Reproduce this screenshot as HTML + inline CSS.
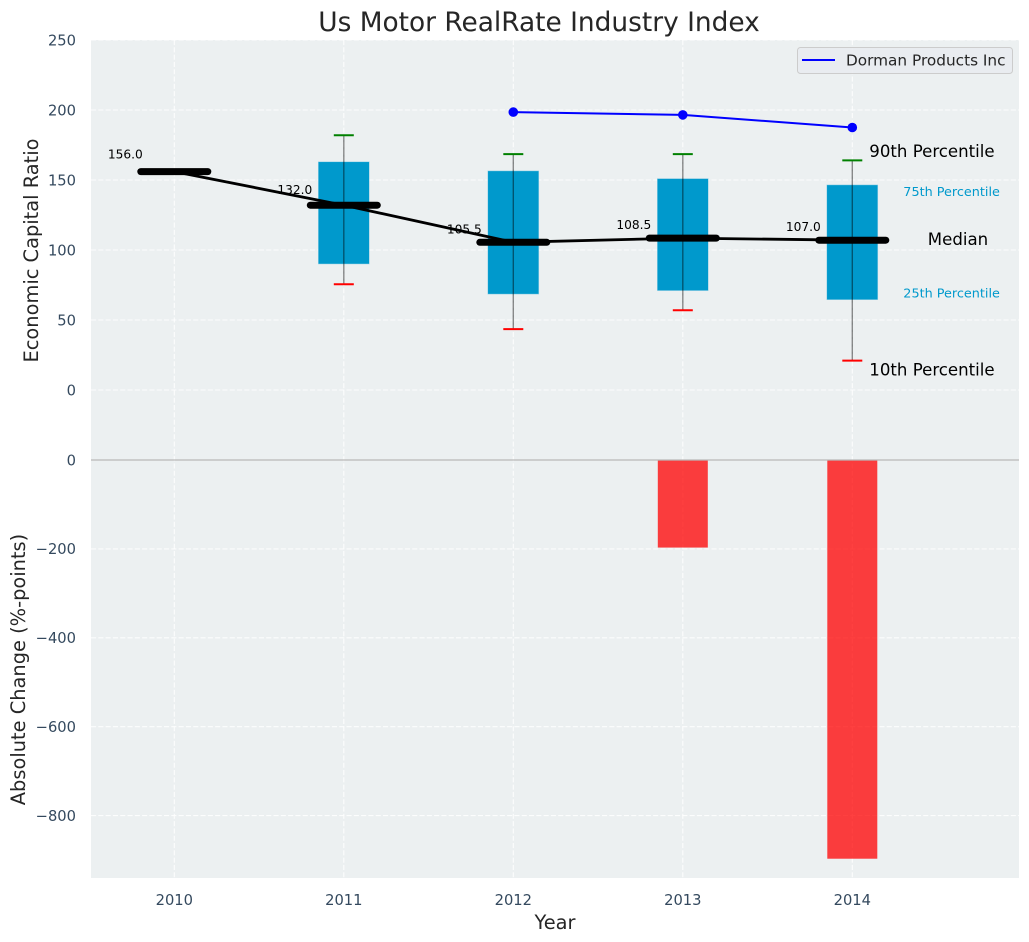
<!DOCTYPE html>
<html>
<head>
<meta charset="utf-8">
<title>Us Motor RealRate Industry Index</title>
<style>
html,body{margin:0;padding:0;background:#fff;width:1029px;height:942px;overflow:hidden}
svg{display:block;font-family:"DejaVu Sans","Liberation Sans",sans-serif}
</style>
</head>
<body>
<svg id="chart" width="1029" height="942" viewBox="0 0 1029 942" xmlns="http://www.w3.org/2000/svg"></svg>
<script>
const years = [2010, 2011, 2012, 2013, 2014];
const median = [156.0, 132.0, 105.5, 108.5, 107.0];
const p90 = [null, 182, 168.5, 168.5, 164];
const p75 = [null, 163, 156.5, 151, 146.5];
const p25 = [null, 90, 68.5, 71, 64.5];
const p10 = [null, 75.5, 43.5, 57, 21];
const dormanYears = [2012, 2013, 2014];
const dormanValues = [198.5, 196.5, 187.5];
const changeYears = [2013, 2014];
const changeValues = [-197, -897];
const upperTicks = [0, 50, 100, 150, 200, 250];
const lowerTicks = [0, -200, -400, -600, -800];

const svg = document.getElementById('chart');
const NS = 'http://www.w3.org/2000/svg';
const x = v => 174.3 + (v - 2010) * 169.5;
const yU = v => 390 - v * 1.4;
const yL = v => 460 - v * 0.4445;
const L = 91, R = 1019, T = 40, M = 460, B = 878;

function make(tag, attrs, parent) {
  const el = document.createElementNS(NS, tag);
  for (const k in attrs) el.setAttribute(k, attrs[k]);
  (parent || svg).appendChild(el);
  return el;
}
function text(str, px, py, size, fill, anchor, parent) {
  const el = make('text', {x: px, y: py, 'font-size': size, fill: fill, 'text-anchor': anchor || 'start'}, parent);
  el.textContent = str;
  return el;
}
const minus = n => String(n).replace('-', '\u2212');
const TICK = '#34495e', INK = '#262626';
const GRID = {stroke: '#fff', 'stroke-width': 1.1, 'stroke-opacity': 0.85, 'stroke-dasharray': '5.1 2.2'};

let el;
el = make('rect', {x: L, y: T, width: R - L, height: B - T, fill: '#ecf0f1'});



years.forEach(yr => {
  const g = make('line', Object.assign({x1: x(yr), x2: x(yr), y1: T, y2: B}, GRID));
  
  
  const t = text(yr, x(yr), 905, 14.7, TICK, 'middle');
  
  
});
upperTicks.forEach(v => {
  const g = make('line', Object.assign({x1: L, x2: R, y1: yU(v), y2: yU(v)}, GRID));
  
  
  const t = text(v, 76, yU(v) + 5.3, 14.7, TICK, 'end');
  
  
});
lowerTicks.forEach(v => {
  if (v !== 0) {
    const g = make('line', Object.assign({x1: L, x2: R, y1: yL(v), y2: yL(v)}, GRID));
    
    
  }
  const t = text(minus(v), 76, yL(v) + 5.3, 14.7, TICK, 'end');
  
  
});

changeYears.forEach((yr, i) => {
  const bar = make('rect', {x: x(yr) - 25, y: yL(0), width: 50, height: yL(changeValues[i]) - yL(0), fill: '#ff0000', 'fill-opacity': 0.75});
  
  
});

el = make('line', {x1: L, x2: R, y1: M, y2: M, stroke: '#b8b8b8', 'stroke-width': 1.3});



years.forEach((yr, i) => {
  if (p90[i] === null) return;
  const box = make('rect', {x: x(yr) - 25.5, y: yU(p75[i]), width: 51, height: yU(p25[i]) - yU(p75[i]), fill: '#0099cc', stroke: '#9fd3e6', 'stroke-width': 0.5});
  
  
  const w = make('line', {x1: x(yr), x2: x(yr), y1: yU(p90[i]), y2: yU(p10[i]), stroke: '#000', 'stroke-opacity': 0.45, 'stroke-width': 1.4});
  
  
  const c1 = make('line', {x1: x(yr) - 10, x2: x(yr) + 10, y1: yU(p90[i]), y2: yU(p90[i]), stroke: '#008000', 'stroke-width': 2});
  
  
  const c2 = make('line', {x1: x(yr) - 10, x2: x(yr) + 10, y1: yU(p10[i]), y2: yU(p10[i]), stroke: '#ff0000', 'stroke-width': 2});
  
  
});

el = make('polyline', {points: years.map((yr, i) => x(yr) + ',' + yU(median[i])).join(' '), fill: 'none', stroke: '#000', 'stroke-width': 2.8});



years.forEach((yr, i) => {
  const m = make('line', {x1: x(yr) - 33.5, x2: x(yr) + 33.5, y1: yU(median[i]), y2: yU(median[i]), stroke: '#000', 'stroke-width': 7, 'stroke-linecap': 'round'});
  
  
  const t = text(median[i].toFixed(1), x(yr) - 31.5, yU(median[i] * 1.06), 12.2, '#000', 'end');
  
  
});

el = make('polyline', {points: dormanYears.map((yr, i) => x(yr) + ',' + yU(dormanValues[i])).join(' '), fill: 'none', stroke: '#0000ff', 'stroke-width': 2});


dormanYears.forEach((yr, i) => {
  const p = make('circle', {cx: x(yr), cy: yU(dormanValues[i]), r: 4.8, fill: '#0000ff'});
  
  
});

const last = years.length - 1;
const lastX = x(years[last]);
el = text('90th Percentile', lastX + 17, yU(p90[last]) - 3.5, 16.6, '#000');


el = text('75th Percentile', lastX + 51, yU(p75[last]) + 11, 12.8, '#0099cc');


el = text('Median', lastX + 75.5, yU(median[last]) + 5, 16.6, '#000');


el = text('25th Percentile', lastX + 51, yU(p25[last]) - 2, 12.8, '#0099cc');


el = text('10th Percentile', lastX + 17, yU(p10[last]) + 15, 16.6, '#000');



el = make('rect', {x: 797.5, y: 47.5, width: 215, height: 26, rx: 3, fill: '#e9ebf0', 'fill-opacity': 0.9, stroke: '#cccccc', 'stroke-width': 1});


el = make('line', {x1: 802, x2: 835, y1: 60, y2: 60, stroke: '#0000ff', 'stroke-width': 2});


el = text('Dorman Products Inc', 846, 65.5, 15.3, INK);



el = text('Us Motor RealRate Industry Index', 539, 31, 26.4, INK, 'middle');


el = text('Year', 555, 929, 19.4, INK, 'middle');


el = text('Economic Capital Ratio', 0, 0, 19.4, INK, 'middle');
el.setAttribute('transform', 'translate(38,250.5) rotate(-90)');


el = text('Absolute Change (%-points)', 0, 0, 19.4, INK, 'middle');
el.setAttribute('transform', 'translate(25,669.5) rotate(-90)');


</script>
</body>
</html>
